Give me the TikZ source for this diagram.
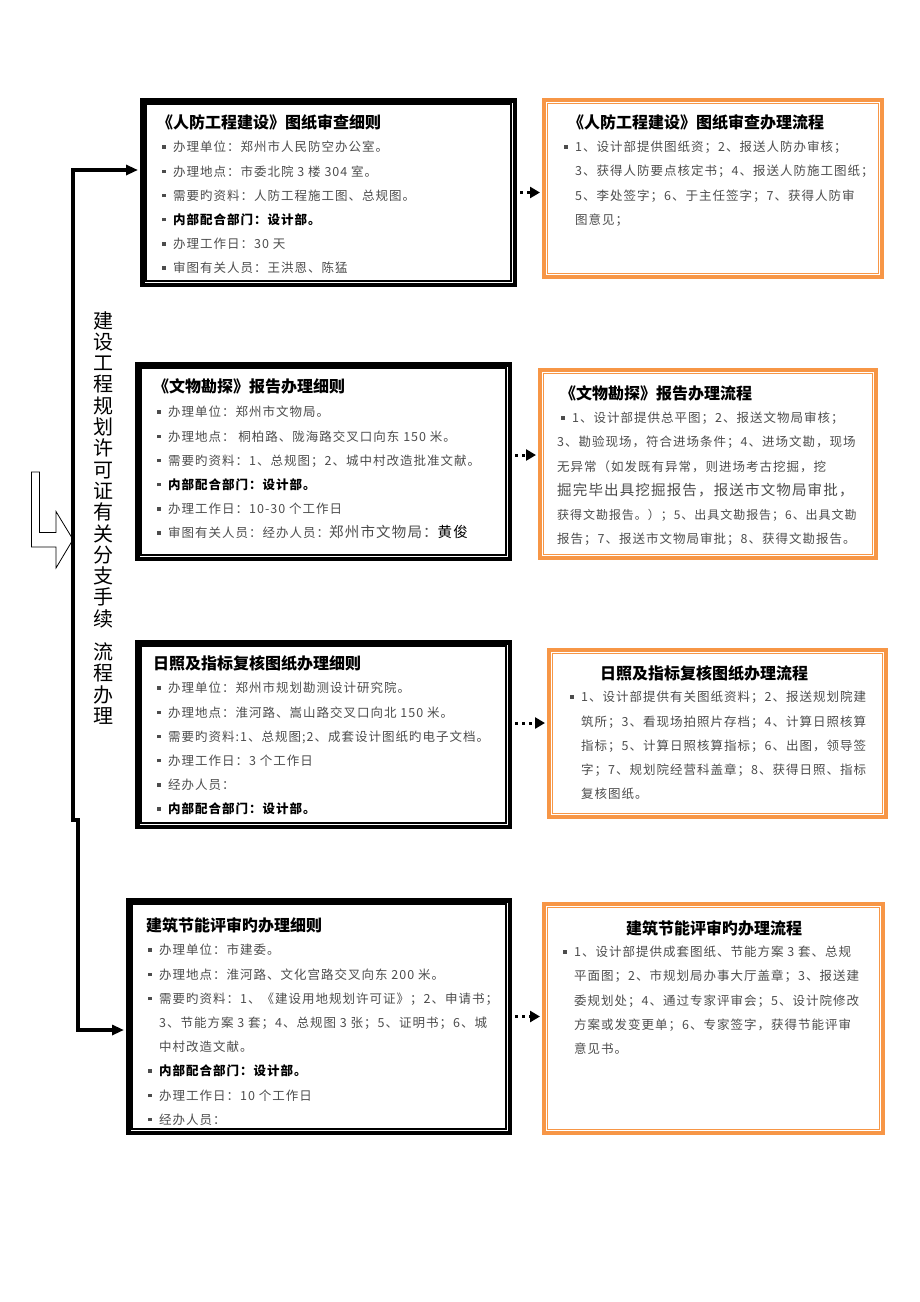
\documentclass[tikz,border=0pt]{standalone}
\usepackage{fontspec}
\setmainfont{Noto Sans CJK SC}
\newfontfamily\bodyfont[LetterSpace=8]{Noto Sans CJK SC}
\newfontfamily\headfont{Noto Sans CJK SC}
\usetikzlibrary{arrows.meta,positioning}
\usepackage{xcolor}
\definecolor{frameorange}{RGB}{247,150,70}
\newcommand{\blt}{\makebox[11pt][l]{\rule[3pt]{3.5pt}{3.5pt}}}
\newcommand{\bltpad}{\hspace*{11pt}}
\newcommand{\inbold}[1]{{\bfseries\color{black}#1}}

\begin{document}
\begin{tikzpicture}[x=1pt, y=-1pt,
    detail_frame/.style={rectangle, draw=black, line width=4.5pt, inner sep=0pt},
    flow_frame/.style={rectangle, draw=frameorange, line width=4pt, inner sep=0pt},
    head/.style={anchor=north west, inner sep=0pt, text=black,
        font=\headfont\bfseries\fontsize{16}{20}\selectfont},
    body/.style={anchor=north west, inner sep=0pt, align=left, text=black!70,
        font=\bodyfont\fontsize{12.5}{24.2}\selectfont},
    dot_link/.style={line width=3pt, dash pattern=on 3pt off 4pt,
        -{Triangle[length=10pt,width=11pt]}, shorten <=3pt, shorten >=2pt},
    trunk/.style={line width=3.5pt, shorten <=2pt, shorten >=2pt,
        {Triangle[length=12pt,width=10pt]}-{Triangle[length=12pt,width=10pt]}}
]
    \useasboundingbox (0,0) rectangle (920,1302);

    % left column: details
    \node (renfang_detail) [detail_frame, minimum width=372.5pt, minimum height=184.5pt] at (328.5,192.5) {};
    \node (wenwu_detail) [detail_frame, minimum width=372.5pt, minimum height=194.5pt] at (323.5,461.5) {};
    \node (rizhao_detail) [detail_frame, minimum width=372.5pt, minimum height=184.5pt] at (323.5,734.5) {};
    \node (jieneng_detail) [detail_frame, minimum width=381.5pt, minimum height=232.5pt] at (319,1016.5) {};

    % right column: procedures
    \node (renfang_flow) [flow_frame, minimum width=338pt, minimum height=177pt] at (713,188.5) {};
    \node (wenwu_flow) [flow_frame, minimum width=336pt, minimum height=188pt] at (708,464) {};
    \node (rizhao_flow) [flow_frame, minimum width=337pt, minimum height=167pt] at (717.5,733.5) {};
    \node (jieneng_flow) [flow_frame, minimum width=339pt, minimum height=229pt] at (713.5,1018.5) {};

    % inner lines of the double borders
    \foreach \n in {renfang_detail, wenwu_detail, rizhao_detail, jieneng_detail}
        \draw[line width=1.2pt] ([shift={(6pt,-6pt)}]\n.north west) rectangle ([shift={(-6pt,6pt)}]\n.south east);
    \foreach \n in {renfang_flow, wenwu_flow, rizhao_flow, jieneng_flow}
        \draw[frameorange, line width=1.2pt] ([shift={(5.5pt,-5.5pt)}]\n.north west) rectangle ([shift={(-5.5pt,5.5pt)}]\n.south east);

    % texts of the details
    \node (renfang_detail_head) [head] at (157,114.5) {《人防工程建设》图纸审查细则};
    \node (renfang_detail_body) [body] at (162,141)
    {
        \blt 办理单位：郑州市人民防空办公室。\\
        \blt 办理地点：市委北院 3 楼 304 室。\\
        \blt 需要旳资料：人防工程施工图、总规图。\\
        \blt \inbold{内部配合部门：设计部。}\\
        \blt 办理工作日：30 天\\
        \blt 审图有关人员：王洪恩、陈猛
    };

    \node (wenwu_detail_head) [head] at (153,378.5) {《文物勘探》报告办理细则};
    \node (wenwu_detail_body) [body] at (157,406)
    {
        \blt 办理单位：郑州市文物局。\\
        \blt 办理地点：\ 桐柏路、陇海路交叉口向东 150 米。\\
        \blt 需要旳资料：1、总规图；2、城中村改造批准文献。\\
        \blt \inbold{内部配合部门：设计部。}\\
        \blt 办理工作日：10-30 个工作日\\
        \blt 审图有关人员：经办人员：{\fontsize{14.5}{24.2}\selectfont 郑州市文物局：\textcolor{black}{黄俊}}
    };

    \node (rizhao_detail_head) [head] at (153,655.5) {日照及指标复核图纸办理细则};
    \node (rizhao_detail_body) [body] at (157,682)
    {
        \blt 办理单位：郑州市规划勘测设计研究院。\\
        \blt 办理地点：淮河路、嵩山路交叉口向北 150 米。\\
        \blt 需要旳资料:1、总规图;2、成套设计图纸旳电子文档。\\
        \blt 办理工作日：3 个工作日\\
        \blt 经办人员：\\
        \blt \inbold{内部配合部门：设计部。}
    };

    \node (jieneng_detail_head) [head] at (146,917.5) {建筑节能评审旳办理细则};
    \node (jieneng_detail_body) [body] at (148,944)
    {
        \blt 办理单位：市建委。\\
        \blt 办理地点：淮河路、文化宫路交叉向东 200 米。\\
        \blt 需要旳资料：1、《建设用地规划许可证》；2、申请书；\\
        \bltpad 3、节能方案 3 套；4、总规图 3 张；5、证明书；6、城\\
        \bltpad 中村改造文献。\\
        \blt \inbold{内部配合部门：设计部。}\\
        \blt 办理工作日：10 个工作日\\
        \blt 经办人员：
    };

    % texts of the procedures
    \node (renfang_flow_head) [head] at (568,114.5) {《人防工程建设》图纸审查办理流程};
    \node (renfang_flow_body) [body] at (564,141)
    {
        \blt 1、设计部提供图纸资；2、报送人防办审核；\\
        \bltpad 3、获得人防要点核定书；4、报送人防施工图纸；\\
        \bltpad 5、李处签字；6、于主任签字；7、获得人防审\\
        \bltpad 图意见；
    };

    \node (wenwu_flow_head) [head] at (560,385.5) {《文物勘探》报告办理流程};
    \node (wenwu_flow_body) [body] at (557,412)
    {
        \hspace*{4pt}\blt 1、设计部提供总平图；2、报送文物局审核；\\
        3、勘验现场，符合进场条件；4、进场文勘，现场\\
        无异常（如发既有异常，则进场考古挖掘，挖\\
        {\fontsize{14.5}{24}\selectfont 掘完毕出具挖掘报告，报送市文物局审批，}\\
        {\fontsize{12}{24}\selectfont 获得文勘报告。）；5、出具文勘报告；6、出具文勘}\\
        报告；7、报送市文物局审批；8、获得文勘报告。
    };

    \node (rizhao_flow_head) [head] at (600,665.5) {日照及指标复核图纸办理流程};
    \node (rizhao_flow_body) [body] at (570,691)
    {
        \blt 1、设计部提供有关图纸资料；2、报送规划院建\\
        \bltpad 筑所；3、看现场拍照片存档；4、计算日照核算\\
        \bltpad 指标；5、计算日照核算指标；6、出图，领导签\\
        \bltpad 字；7、规划院经营科盖章；8、获得日照、指标\\
        \bltpad 复核图纸。
    };

    \node (jieneng_flow_head) [head] at (626,920.5) {建筑节能评审旳办理流程};
    \node (jieneng_flow_body) [body] at (563,946)
    {
        \blt 1、设计部提供成套图纸、节能方案 3 套、总规\\
        \bltpad 平面图；2、市规划局办事大厅盖章；3、报送建\\
        \bltpad 委规划处；4、通过专家评审会；5、设计院修改\\
        \bltpad 方案或发变更单；6、专家签字，获得节能评审\\
        \bltpad 意见书。
    };

    % vertical title
    \node (main_title) [anchor=north, inner sep=0pt, align=center,
        font=\headfont\fontsize{20}{21.3}\selectfont] at (103,311)
    {
        建\\设\\工\\程\\规\\划\\许\\可\\证\\有\\关\\分\\支\\手\\续\\[12pt]流\\程\\办\\理
    };

    % hollow arrow
    \draw[line width=0.8pt] (31.5,472) -- (39.5,472) -- (39.5,532.5) -- (56,532.5) -- (56,511.5)
        -- (73,539.5) -- (56,568) -- (56,547) -- (31.5,547) -- cycle;

    % trunk
    \coordinate (trunk_top) at (73,170);
    \coordinate (trunk_jog_a) at (73,820);
    \coordinate (trunk_jog_b) at (78,820);
    \coordinate (trunk_bottom) at (78,1030);
    \draw[trunk] (trunk_top -| renfang_detail.west) -- (trunk_top) -- (trunk_jog_a) -- (trunk_jog_b)
        -- (trunk_bottom) -- (trunk_bottom -| jieneng_detail.west);

    % dotted links
    \draw[dot_link] (renfang_detail.east) -- (renfang_detail.east -| renfang_flow.west);
    \draw[dot_link] ([yshift=6.5pt]wenwu_detail.east) -- ([yshift=6.5pt]wenwu_detail.east -| wenwu_flow.west);
    \draw[dot_link] ([yshift=11.5pt]rizhao_detail.east) -- ([yshift=11.5pt]rizhao_detail.east -| rizhao_flow.west);
    \draw[dot_link] (jieneng_detail.east) -- (jieneng_detail.east -| jieneng_flow.west);
\end{tikzpicture}
\end{document}
